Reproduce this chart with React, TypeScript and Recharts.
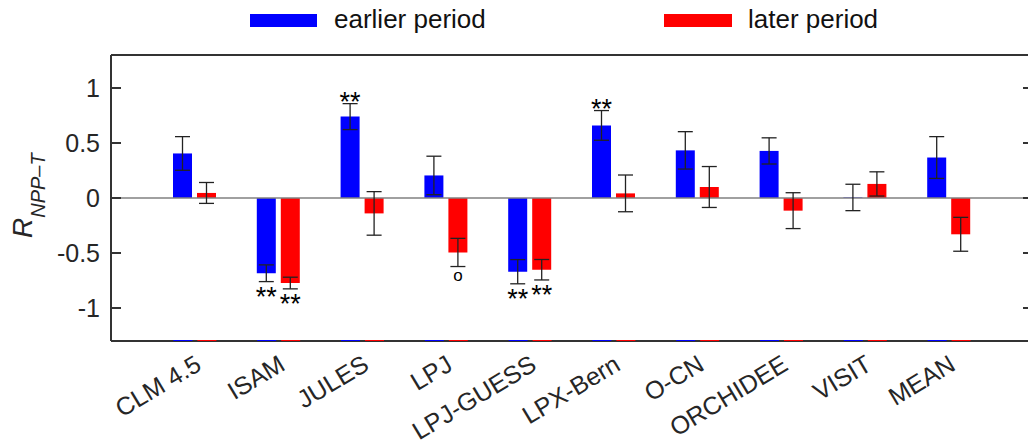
import React from 'react';
import {
  Bar,
  BarChart,
  ErrorBar,
  LabelList,
  ReferenceLine,
  XAxis,
  YAxis,
} from 'recharts';

const categories = ['CLM 4.5', 'ISAM', 'JULES', 'LPJ', 'LPJ-GUESS', 'LPX-Bern', 'O-CN', 'ORCHIDEE', 'VISIT', 'MEAN'];
const earlier = [0.405, -0.684, 0.74, 0.205, -0.67, 0.66, 0.433, 0.428, 0.005, 0.368];
const earlierErr = [0.153, 0.076, 0.118, 0.175, 0.11, 0.135, 0.17, 0.119, 0.12, 0.19];
const later = [0.046, -0.773, -0.14, -0.495, -0.652, 0.042, 0.1, -0.115, 0.128, -0.33];
const laterErr = [0.095, 0.053, 0.198, 0.128, 0.093, 0.167, 0.186, 0.163, 0.11, 0.154];
const earlierSig = ['', '**', '**', '', '**', '**', '', '', '', ''];
const laterSig = ['', '**', '', 'o', '**', '', '', '', '', ''];
const yTicks = [-1, -0.5, 0, 0.5, 1];

const data = categories.map((name, i) => ({
  name,
  earlier: earlier[i],
  earlierErr: earlierErr[i],
  later: later[i],
  laterErr: laterErr[i],
}));

const FONT = "'Liberation Sans', Arial, Helvetica, sans-serif";
const W = 1040;
const H = 444;
const PLOT_LEFT = 111;
const PLOT_RIGHT = 1033;
const PLOT_TOP = 55;
const PLOT_BOTTOM = 341;
const YMIN = -1.3;
const YMAX = 1.3;
const BLUE = '#0000ff';
const RED = '#ff0000';
const INK = '#262626';
const FRAME = '#333333';

const yPix = (v: number) => PLOT_TOP + ((YMAX - v) / (YMAX - YMIN)) * (PLOT_BOTTOM - PLOT_TOP);

function LeftTick(props: any) {
  const { y, payload } = props;
  return (
    <g>
      <line x1={PLOT_LEFT} x2={PLOT_LEFT + 10} y1={y} y2={y} stroke={FRAME} strokeWidth={2} />
      <text x={PLOT_LEFT - 11} y={y} dy="0.36em" textAnchor="end" fontSize={25} fill={INK} fontFamily={FONT}>
        {String(payload.value)}
      </text>
    </g>
  );
}

function RightTick(props: any) {
  const { y } = props;
  return <line x1={PLOT_RIGHT - 10} x2={PLOT_RIGHT} y1={y} y2={y} stroke={FRAME} strokeWidth={2} />;
}

function XTick(props: any) {
  const { x, payload } = props;
  return (
    <g>
      <line x1={x - 21.5} x2={x - 2.5} y1={PLOT_BOTTOM - 0.5} y2={PLOT_BOTTOM - 0.5} stroke={BLUE} strokeWidth={1} />
      <line x1={x + 2.5} x2={x + 21.5} y1={PLOT_BOTTOM - 0.5} y2={PLOT_BOTTOM - 0.5} stroke={RED} strokeWidth={1} />
      <text
        transform={`translate(${x + 8},${PLOT_BOTTOM + 28}) rotate(-31)`}
        textAnchor="end"
        fontSize={25}
        fill={INK}
        fontFamily={FONT}
      >
        {payload.value}
      </text>
    </g>
  );
}

function YLabel() {
  return (
    <text transform="translate(32,238) rotate(-90)" fontStyle="italic" fill={INK} fontFamily={FONT}>
      <tspan fontSize={28}>R</tspan>
      <tspan fontSize={20} dy={13}>NPP–T</tspan>
    </text>
  );
}

const sigLabel = (vals: number[], errs: number[], sigs: string[]) => (props: any) => {
  const { x, width, value } = props;
  const i = categories.indexOf(value);
  const mark = i >= 0 ? sigs[i] : '';
  if (!mark) return null;
  const cx = Number(x) + Number(width) / 2;
  const v = vals[i];
  const e = errs[i];
  let base: number;
  if (mark === 'o') {
    base = v > 0 ? yPix(v + e) - 6 : yPix(v - e) + 14;
    return (
      <text x={cx} y={base} textAnchor="middle" fontSize={17} fill="#000" fontFamily={FONT}>
        {mark}
      </text>
    );
  }
  base = v > 0 ? yPix(v + e) + 7 : yPix(v - e) + 24.5;
  return (
    <text x={cx} y={base} textAnchor="middle" fontSize={27} fill="#000" fontFamily={FONT}>
      {mark}
    </text>
  );
};

function Legend() {
  return (
    <svg width={1028} height={50} style={{ position: 'absolute', left: 0, top: 0 }}>
      <rect x={250} y={14} width={67} height={13} fill={BLUE} />
      <text x={334} y={28} fontSize={26} fill="#111" fontFamily={FONT}>
        earlier period
      </text>
      <rect x={664} y={14} width={68} height={13} fill={RED} />
      <text x={748} y={28} fontSize={26} fill="#111" fontFamily={FONT}>
        later period
      </text>
    </svg>
  );
}

export default function App() {
  return (
    <div
      style={{
        position: 'absolute',
        left: 0,
        top: 0,
        width: 1028,
        height: 444,
        overflow: 'hidden',
        background: '#fff',
        fontFamily: FONT,
      }}
    >
      <BarChart
        width={W}
        height={H}
        data={data}
        margin={{ top: PLOT_TOP, right: 0, bottom: 0, left: 0 }}
        barGap={5}
      >
        <XAxis
          dataKey="name"
          height={H - PLOT_BOTTOM}
          padding={{ left: 42, right: 42 }}
          axisLine={{ stroke: FRAME, strokeWidth: 2 }}
          tickLine={false}
          interval={0}
          tick={<XTick />}
        />
        <YAxis
          width={PLOT_LEFT}
          domain={[YMIN, YMAX]}
          ticks={yTicks}
          interval={0}
          allowDataOverflow
          axisLine={{ stroke: FRAME, strokeWidth: 2 }}
          tickLine={false}
          tick={<LeftTick />}
          label={{ content: () => <YLabel /> }}
        />
        <YAxis
          yAxisId="r"
          orientation="right"
          width={W - PLOT_RIGHT}
          domain={[YMIN, YMAX]}
          ticks={yTicks}
          interval={0}
          allowDataOverflow
          axisLine={false}
          tickLine={false}
          tick={<RightTick />}
        />
        <ReferenceLine y={0} stroke="#808080" strokeWidth={1.5} />
        <ReferenceLine y={YMAX} stroke={FRAME} strokeWidth={2} />
        <Bar dataKey="earlier" fill={BLUE} barSize={19} isAnimationActive={false}>
          <ErrorBar dataKey="earlierErr" width={7.5} stroke="#222" strokeWidth={1.3} direction="y" isAnimationActive={false} />
          <LabelList dataKey="name" content={sigLabel(earlier, earlierErr, earlierSig)} />
        </Bar>
        <Bar dataKey="later" fill={RED} barSize={19} isAnimationActive={false}>
          <ErrorBar dataKey="laterErr" width={7.5} stroke="#222" strokeWidth={1.3} direction="y" isAnimationActive={false} />
          <LabelList dataKey="name" content={sigLabel(later, laterErr, laterSig)} />
        </Bar>
      </BarChart>
      <Legend />
    </div>
  );
}
